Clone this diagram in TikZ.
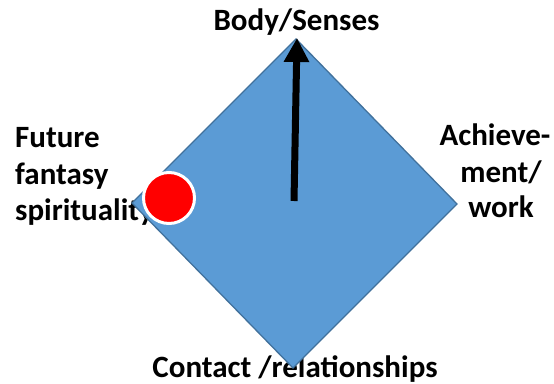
\documentclass[tikz,border=0pt]{standalone}
\usepackage{fontspec}
\setmainfont{Carlito}
\usetikzlibrary{arrows.meta}
\definecolor{dfill}{HTML}{5B9BD5}
\definecolor{dline}{HTML}{41719C}
\tikzset{
  lbl/.style={font=\fontsize{31}{37}\selectfont\bfseries, inner sep=0pt, text=black},
  diam/.style={fill=dfill, draw=dline, line width=1.3pt, line join=miter},
  redball/.style={circle, fill=red, draw=white, line width=3pt, minimum size=51pt, inner sep=0pt},
  bigarrow/.style={line width=7pt, -{Triangle[width=24pt,length=24pt]}}
}
\begin{document}
\begin{tikzpicture}[x=1pt,y=-1pt]
\useasboundingbox (0,0) rectangle (554,383);
% labels
\node[lbl, anchor=base] (top) at (296.5,30) {Body/Senses};
\node[lbl, anchor=base west] (l1) at (15,147) {Future};
\node[lbl, anchor=base west] (l2) at (15,184) {fantasy};
\node[lbl, anchor=base west] (l3) at (15,220) {spirituality};
\node[lbl, anchor=base] (r1) at (495,145) {Achieve-};
\node[lbl, anchor=base] (r2) at (501,182) {ment/};
\node[lbl, anchor=base] (r3) at (501,217) {work};
\node[lbl, anchor=base] (bot) at (295,377) {Contact /relationships};
% diamond
\coordinate (dt) at (296,39);
\coordinate (dr) at (457,204);
\coordinate (db) at (293,368);
\coordinate (dl) at (132,203);
\draw[diam] (dt) -- (dr) -- (db) -- (dl) -- cycle;
% arrow
\coordinate (c) at (294,201);
\coordinate (tip) at (297,38);
\draw[bigarrow] (c) -- (tip);
% red circle
\node[redball] (ball) at (169,198) {};
\end{tikzpicture}
\end{document}
